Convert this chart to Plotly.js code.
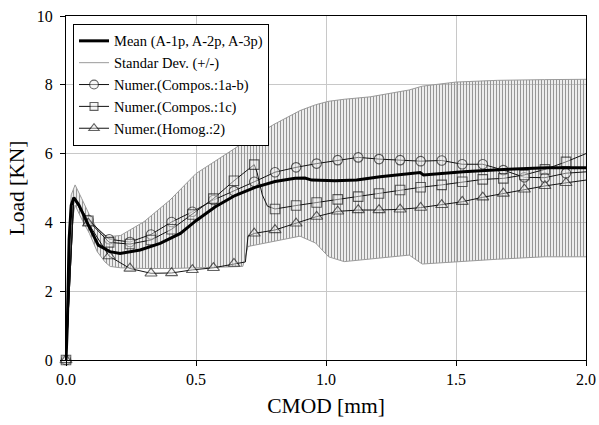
<!DOCTYPE html>
<html>
<head>
<meta charset="utf-8">
<script src="https://cdn.plot.ly/plotly-3.0.1.min.js"></script>
<style>html,body{margin:0;padding:0;background:#fff;}#chart{width:599px;height:425px;}</style>
</head>
<body>
<div id="chart"></div>
<script>
// ---- Data ----
const sdX   = [0, 0.01, 0.02, 0.035, 0.06, 0.09, 0.12, 0.15, 0.17, 0.21, 0.3, 0.4, 0.5, 0.6, 0.68, 0.7, 0.8, 0.9, 0.96, 1.01, 1.07, 1.17, 1.32, 1.37, 1.5, 1.66, 1.84, 2.0];
const sdUp  = [0, 3.5, 4.8, 5.09, 4.7, 4.22, 3.8, 3.62, 3.59, 3.62, 4.02, 4.65, 5.42, 5.9, 6.3, 6.4, 6.85, 7.25, 7.42, 7.52, 7.58, 7.65, 7.85, 7.96, 8.08, 8.13, 8.15, 8.16];
const sdLow = [0, 2.0, 3.9, 4.5, 4.1, 3.68, 3.15, 2.85, 2.72, 2.68, 2.66, 2.66, 2.67, 2.7, 2.72, 3.3, 3.45, 3.6, 3.4, 3.0, 2.86, 2.93, 3.05, 2.79, 2.86, 2.93, 3.0, 3.0];

const meanX = [0, 0.005, 0.012, 0.02, 0.03, 0.05, 0.086, 0.124, 0.169, 0.208, 0.285, 0.362, 0.44, 0.5, 0.573, 0.65, 0.727, 0.804, 0.881, 0.919, 0.945, 1.035, 1.118, 1.208, 1.362, 1.375, 1.528, 1.682, 1.849, 2.0];
const meanY = [0, 1.0, 3.5, 4.5, 4.72, 4.5, 3.92, 3.34, 3.15, 3.10, 3.2, 3.39, 3.68, 4.05, 4.45, 4.78, 5.02, 5.19, 5.28, 5.29, 5.23, 5.21, 5.23, 5.33, 5.45, 5.38, 5.47, 5.54, 5.59, 5.59];

// marker positions (same CMOD stations for the three numerical curves)
const mkX = [0, 0.086, 0.166, 0.246, 0.327, 0.406, 0.486, 0.567, 0.646, 0.724, 0.804, 0.885, 0.964, 1.045, 1.124, 1.204, 1.285, 1.364, 1.445, 1.524, 1.603, 1.682, 1.763, 1.842, 1.923];
const circY = [0, 4.07, 3.51, 3.43, 3.65, 4.01, 4.31, 4.65, 4.91, 5.18, 5.46, 5.6, 5.71, 5.81, 5.89, 5.84, 5.81, 5.78, 5.8, 5.69, 5.69, 5.52, 5.31, 5.3, 5.43];
const sqY   = [0, 4.05, 3.42, 3.37, 3.49, 3.8, 4.23, 4.69, 5.21, 5.68, 4.39, 4.49, 4.58, 4.67, 4.75, 4.84, 4.94, 5.02, 5.09, 5.18, 5.25, 5.28, 5.38, 5.54, 5.76];
const triY  = [0, 3.97, 3.02, 2.66, 2.52, 2.53, 2.62, 2.68, 2.8, 3.68, 3.78, 3.97, 4.17, 4.32, 4.36, 4.36, 4.38, 4.43, 4.51, 4.6, 4.73, 4.84, 4.96, 5.06, 5.15];

// curve vertices between markers (no marker drawn)
const circExtraX = [0.03, 2.0];
const circExtraY = [4.7, 5.47];
const sqExtraX = [0.03, 0.735, 0.755, 0.775, 2.0];
const sqExtraY = [4.7, 5.45, 4.8, 4.47, 6.0];
const triExtraX = [0.03, 0.69, 0.70, 2.0];
const triExtraY = [4.7, 2.85, 3.6, 5.23];

const names = ['Mean (A-1p, A-2p, A-3p)', 'Standar Dev. (+/-)', 'Numer.(Compos.:1a-b)', 'Numer.(Compos.:1c)', 'Numer.(Homog.:2)'];
const xTicks = [0, 0.5, 1.0, 1.5, 2.0];
const xTickText = ['0.0', '0.5', '1.0', '1.5', '2.0'];
const yTicks = [0, 2, 4, 6, 8, 10];

// ---- build ----
function merge(mx, my, ex, ey, msize) {
  const pts = [];
  mx.forEach((x, i) => pts.push({x: x, y: my[i], s: msize}));
  ex.forEach((x, i) => pts.push({x: x, y: ey[i], s: 0}));
  pts.sort((a, b) => a.x - b.x);
  return {x: pts.map(p => p.x), y: pts.map(p => p.y), s: pts.map(p => p.s)};
}
const FONT = 'Liberation Serif';
function numTrace(d, name, symbol, rank) {
  return {
    x: d.x, y: d.y, name: name, mode: 'lines+markers', type: 'scatter', legendrank: rank,
    cliponaxis: false,
    line: {color: '#111', width: 1},
    marker: {symbol: symbol, size: d.s, color: 'rgba(240,240,240,0.65)', line: {color: '#222', width: 1.1}}
  };
}
const c = merge(mkX, circY, circExtraX, circExtraY, 9.5);
const s = merge(mkX, sqY, sqExtraX, sqExtraY, 9.5);
const t = merge(mkX, triY, triExtraX, triExtraY, 10.5);

const data = [
  {x: sdX, y: sdLow, name: names[1], mode: 'lines', type: 'scatter', legendrank: 2,
   line: {color: '#9a9a9a', width: 1}},
  {x: sdX, y: sdUp, name: names[1], mode: 'lines', type: 'scatter', showlegend: false,
   line: {color: '#9a9a9a', width: 1}, fill: 'tonexty', fillcolor: 'rgba(215,215,215,0.5)',
   fillpattern: {shape: '|', size: 3, solidity: 0.45, fgcolor: '#969696', bgcolor: 'rgba(255,255,255,0)'}},
  numTrace(c, names[2], 'circle', 3),
  numTrace(s, names[3], 'square', 4),
  numTrace(t, names[4], 'triangle-up', 5),
  {x: meanX, y: meanY, name: names[0], mode: 'lines', type: 'scatter', legendrank: 1,
   line: {color: '#000', width: 3}}
];

const layout = {
  width: 599, height: 425,
  margin: {l: 66, r: 13, t: 16, b: 65},
  paper_bgcolor: '#fff', plot_bgcolor: '#fff',
  font: {family: FONT, color: '#000', size: 16},
  showlegend: true,
  legend: {x: 0.0135, y: 0.977, xanchor: 'left', yanchor: 'top', bordercolor: '#000', borderwidth: 1,
           traceorder: 'normal',
           bgcolor: '#fff', font: {family: FONT, size: 14.5, color: '#000'}, tracegroupgap: 0},
  xaxis: {range: [0, 2], tickvals: xTicks, ticktext: xTickText, ticks: 'outside', ticklen: 5, tickcolor: '#000',
          showline: true, linecolor: '#000', linewidth: 1, mirror: true, zeroline: false,
          showgrid: true, gridcolor: '#c8c8c8', gridwidth: 1,
          tickfont: {family: FONT, size: 16}, title: {text: 'CMOD [mm]', font: {family: FONT, size: 21.5}, standoff: 10}},
  yaxis: {range: [0, 10], tickvals: yTicks, ticks: 'outside', ticklen: 5, tickcolor: '#000', ticklabelstandoff: 4,
          showline: true, linecolor: '#000', linewidth: 1, mirror: true, zeroline: false,
          showgrid: true, gridcolor: '#c8c8c8', gridwidth: 1,
          tickfont: {family: FONT, size: 16}, title: {text: 'Load [KN]', font: {family: FONT, size: 21.5}, standoff: 6}}
};
Plotly.newPlot('chart', data, layout, {displayModeBar: false, staticPlot: true});
</script>
</body>
</html>
